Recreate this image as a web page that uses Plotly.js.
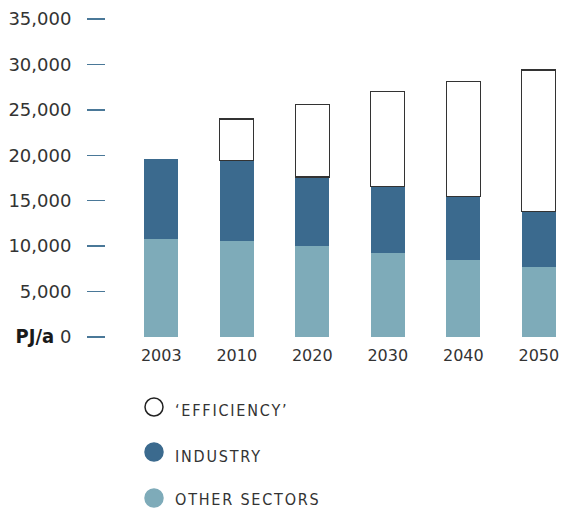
<!DOCTYPE html>
<html>
<head>
<meta charset="utf-8">
<script src="https://cdn.plot.ly/plotly-3.0.1.min.js"></script>
<style>
  html, body { margin: 0; padding: 0; background: #fff; }
  .annotation-text { letter-spacing: 1.8px; }
</style>
</head>
<body>
<div id="chart" style="width:566px;height:510px;"></div>
<script>
// Data (PJ/a)
const years = ['2003', '2010', '2020', '2030', '2040', '2050'];
const otherSectors = [10750, 10550, 10000, 9250, 8450, 7700];
const industry     = [8850, 8850, 7600, 7300, 7050, 6150];
const efficiency   = [null, 4600, 8000, 10450, 12600, 15550];

const yTickVals = [0, 5000, 10000, 15000, 20000, 25000, 30000, 35000];
const yTickText = ['<span style="font-family:\'Liberation Sans Narrow\',\'DejaVu Sans Condensed\',sans-serif;font-weight:bold;font-size:20px;color:#1a1a1a">PJ/a</span> 0',
                   '5,000', '10,000', '15,000', '20,000', '25,000', '30,000', '35,000'];

const legendLabels = ['\u2018EFFICIENCY\u2019', 'INDUSTRY', 'OTHER SECTORS'];
const legendFill   = ['#ffffff', '#3b6a8e', '#7eabb9'];
const legendLine   = ['#222222', '#3b6a8e', '#7eabb9'];

const colOther = '#7eabb9';
const colInd = '#3b6a8e';

const traces = [
  { type: 'bar', x: years, y: otherSectors, name: 'OTHER SECTORS',
    marker: { color: colOther, line: { width: 0 } }, width: 0.45, hoverinfo: 'x+y' },
  { type: 'bar', x: years, y: industry, name: 'INDUSTRY',
    marker: { color: colInd, line: { width: 0 } }, width: 0.45, hoverinfo: 'x+y' },
  { type: 'bar', x: years, y: efficiency, name: 'EFFICIENCY',
    marker: { color: '#ffffff', line: { color: '#333333', width: 1.3 } }, width: 0.45, hoverinfo: 'x+y' }
];

// Plot area geometry
const W = 566, H = 510;
const mL = 106, mR = 0, mT = 19, mB = 173;
const plotW = W - mL - mR, plotH = H - mT - mB;
const px2paperX = p => (p - mL) / plotW;
const px2paperY = p => (H - mB - p) / plotH;

const circleY = [407, 452, 498];
const textY = [410, 456, 499];
const shapes = [];
const annotations = [];
legendLabels.forEach((lab, i) => {
  shapes.push({
    type: 'circle', xref: 'paper', yref: 'paper',
    xsizemode: 'pixel', ysizemode: 'pixel',
    xanchor: px2paperX(154), yanchor: px2paperY(circleY[i]),
    x0: -9, x1: 9, y0: -9, y1: 9,
    fillcolor: legendFill[i], line: { color: legendLine[i], width: 1.5 }
  });
  annotations.push({
    xref: 'paper', yref: 'paper', x: px2paperX(174), y: px2paperY(textY[i]),
    xanchor: 'left', yanchor: 'middle', showarrow: false, text: lab,
    borderpad: 0,
    font: { family: "'Liberation Sans Narrow', 'DejaVu Sans Condensed', 'Roboto', sans-serif", size: 16, color: '#333333' }
  });
});

const layout = {
  width: W, height: H,
  margin: { l: mL, r: mR, t: mT, b: mB, pad: 0 },
  paper_bgcolor: '#ffffff', plot_bgcolor: '#ffffff',
  barmode: 'stack',
  showlegend: false,
  xaxis: {
    type: 'category',
    range: [-0.732, 5.36],
    showgrid: false, zeroline: false, showline: false,
    ticks: '',
    ticklabelstandoff: 7,
    tickfont: { family: 'DejaVu Sans, sans-serif', size: 16, color: '#333333' },
    fixedrange: true
  },
  yaxis: {
    range: [0, 35000],
    tickvals: yTickVals, ticktext: yTickText,
    showgrid: false, zeroline: false, showline: false,
    ticks: 'outside', ticklen: 18, tickwidth: 1.5, tickcolor: '#4a7898',
    ticklabelstandoff: 12,
    tickfont: { family: 'DejaVu Sans, sans-serif', size: 18, color: '#333333' },
    fixedrange: true
  },
  shapes: shapes,
  annotations: annotations,
  font: { family: 'DejaVu Sans, sans-serif' }
};

Plotly.newPlot('chart', traces, layout, { displayModeBar: false, staticPlot: true });
</script>
</body>
</html>
